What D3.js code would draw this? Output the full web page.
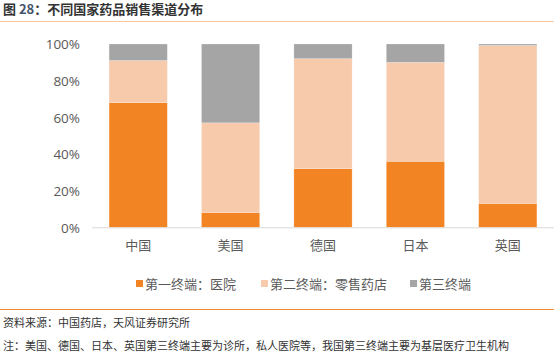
<!DOCTYPE html>
<html><head><meta charset="utf-8">
<script src="https://cdn.jsdelivr.net/npm/d3@7"></script>
<style>
body{margin:0;background:#fff;}
svg text{font-family:"Microsoft YaHei","Noto Sans CJK SC",sans-serif;}
</style></head>
<body>
<svg id="c" width="554" height="359"></svg>
<script>
const categories = ["中国","美国","德国","日本","英国"];
const seriesNames = ["第一终端：医院","第二终端：零售药店","第三终端"];
const hospital = [68, 8, 32, 36, 13];
const retail   = [23, 49, 60, 54, 86.2];
const third    = [9, 43, 8, 10, 0.8];
const yTicks = [0, 20, 40, 60, 80, 100];
const colors = ["#F38424", "#F7CAAC", "#A5A5A5"];

const svg = d3.select("#c");
// title
const t = svg.append("text").attr("x",3).attr("y",14).attr("font-size",13).attr("font-weight","bold").attr("fill","#333");
t.append("tspan").text("图 ");
t.append("tspan").attr("fill","#44546A").text("28");
t.append("tspan").text("：不同国家药品销售渠道分布");
svg.append("line").attr("x1",0).attr("x2",554).attr("y1",21.5).attr("y2",21.5).attr("stroke","#F7C9A2").attr("stroke-width",1.2);

const x = d3.scaleBand().domain(categories).range([92,554]).paddingInner(0.37).paddingOuter(0.185);
const y = d3.scaleLinear().domain([0,100]).range([227.3,44]);

const rows = categories.map((c,i)=>({cat:c, s0:hospital[i], s1:retail[i], s2:third[i]}));
const stack = d3.stack().keys(["s0","s1","s2"])(rows);

svg.append("g").selectAll("g").data(stack).join("g").attr("fill",(d,i)=>colors[i])
  .selectAll("rect").data(d=>d).join("rect")
  .attr("x",d=>x(d.data.cat)).attr("width",x.bandwidth())
  .attr("y",d=>y(d[1])).attr("height",d=>y(d[0])-y(d[1]))
  .attr("stroke","#fff").attr("stroke-opacity",0.35).attr("stroke-width",0.6);

// x axis line
svg.append("line").attr("x1",92).attr("x2",554).attr("y1",227.8).attr("y2",227.8).attr("stroke","#D9D9D9").attr("stroke-width",1);

// y axis
const ya = svg.append("g").attr("transform","translate(80,0)")
  .call(d3.axisLeft(y).tickValues(yTicks).tickFormat(d=>d+"%").tickSize(0).tickPadding(0));
ya.select(".domain").remove();
ya.selectAll("text").attr("font-size",13.5).attr("fill","#595959").attr("dy","0.35em").style("font-family","'Open Sans','Noto Sans',sans-serif");

// x axis labels
const xa = svg.append("g").attr("transform","translate(0,227.8)")
  .call(d3.axisBottom(x).tickSize(0).tickPadding(13));
xa.select(".domain").remove();
xa.selectAll("text").attr("font-size",13).attr("fill","#595959");

// legend
const legX = [136, 261, 410];
const lg = svg.append("g");
seriesNames.forEach((n,i)=>{
  lg.append("rect").attr("x",legX[i]).attr("y",280).attr("width",7).attr("height",7).attr("fill",colors[i]);
  lg.append("text").attr("x",legX[i]+9).attr("y",284).attr("dy","0.35em").attr("font-size",13).attr("fill","#595959").text(n);
});

// bottom line & footers
svg.append("line").attr("x1",0).attr("x2",554).attr("y1",309.5).attr("y2",309.5).attr("stroke","#F08A2C").attr("stroke-width",1.2);
svg.append("text").attr("x",3).attr("y",327).attr("font-size",11).attr("fill","#333").text("资料来源：中国药店，天风证券研究所");
svg.append("text").attr("x",3).attr("y",350).attr("font-size",11).attr("fill","#333").text("注：美国、德国、日本、英国第三终端主要为诊所，私人医院等，我国第三终端主要为基层医疗卫生机构");
</script>
</body></html>
